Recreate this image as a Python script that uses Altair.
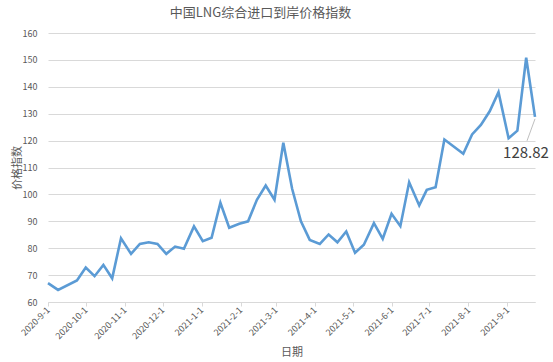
import altair as alt
import pandas as pd

# Data
dates = [
    "2020-09-01", "2020-09-09", "2020-09-24", "2020-10-01", "2020-10-08", "2020-10-15",
    "2020-10-22", "2020-10-29", "2020-11-06", "2020-11-13", "2020-11-20", "2020-11-27",
    "2020-12-04", "2020-12-11", "2020-12-18", "2020-12-26", "2021-01-02", "2021-01-09",
    "2021-01-16", "2021-01-23", "2021-01-31", "2021-02-07", "2021-02-14", "2021-02-21",
    "2021-02-28", "2021-03-07", "2021-03-14", "2021-03-21", "2021-03-28", "2021-04-05",
    "2021-04-12", "2021-04-19", "2021-04-26", "2021-05-03", "2021-05-10", "2021-05-18",
    "2021-05-25", "2021-06-01", "2021-06-08", "2021-06-15", "2021-06-23", "2021-06-29",
    "2021-07-06", "2021-07-13", "2021-07-28", "2021-08-04", "2021-08-11", "2021-08-18",
    "2021-08-25", "2021-09-02", "2021-09-09", "2021-09-16", "2021-09-23",
]
values = [
    67.0, 64.5, 68.0, 72.8, 69.6, 73.8,
    68.8, 83.7, 77.9, 81.6, 82.2, 81.6,
    77.9, 80.6, 79.8, 88.1, 82.6, 83.9,
    96.9, 87.6, 89.1, 90.0, 98.0, 103.3,
    98.0, 119.2, 102.1, 90.0, 83.1, 81.6,
    85.1, 82.2, 86.2, 78.3, 81.3, 89.3,
    83.5, 92.8, 88.2, 104.5, 95.9, 101.7,
    102.7, 120.4, 115.1, 122.3, 125.8, 130.9,
    138.0, 120.9, 123.7, 150.8, 128.82,
]
tick_months = [
    (2020, 9), (2020, 10), (2020, 11), (2020, 12), (2021, 1), (2021, 2), (2021, 3),
    (2021, 4), (2021, 5), (2021, 6), (2021, 7), (2021, 8), (2021, 9),
]
y_ticks = [60, 70, 80, 90, 100, 110, 120, 130, 140, 150, 160]
label_date = ["2021-09-23"]
label_value = [128.82]
label_text = ["128.82"]

df = pd.DataFrame({"date": dates, "value": values})
ann = pd.DataFrame({"date": label_date, "value": label_value, "text": label_text})

FONT = "Noto Sans CJK SC"
GRAY = "#595959"

x_scale = alt.Scale(
    type="utc",
    domain=[alt.DateTime(year=2020, month=9, date=1, utc=True),
            alt.DateTime(year=2021, month=9, date=23, utc=True)],
)
y_scale = alt.Scale(domain=[60, 160], nice=False, zero=False)

x_axis = alt.Axis(
    values=[alt.DateTime(year=y, month=m, date=1, utc=True) for y, m in tick_months],
    labelExpr="utcFormat(datum.value, '%Y-%-m-%-d')",
    labelAngle=-45, labelAlign="right", labelBaseline="middle",
    labelFontSize=9, labelColor=GRAY, labelFont=FONT, labelPadding=2,
    labelOverlap=False,
    grid=False, domainColor="#d9d9d9", tickColor="#d9d9d9", tickSize=4,
    title="日期", titleFont=FONT, titleFontSize=11, titleColor=GRAY,
    titleFontWeight="normal", titleY=50, titleBaseline="middle",
)
y_axis = alt.Axis(
    values=y_ticks, labelOverlap=False,
    domain=False, ticks=False, grid=True, gridColor="#d9d9d9",
    labelFontSize=9, labelColor=GRAY, labelFont=FONT, labelPadding=11,
    title="价格指数", titleFont=FONT, titleFontSize=11, titleColor=GRAY,
    titleFontWeight="normal", titleX=-31, titleY=134.5, titleAngle=-90,
    titleAlign="center", titleBaseline="middle",
)

X = alt.X("date:T", scale=x_scale, axis=x_axis)
Y = alt.Y("value:Q", scale=y_scale, axis=y_axis)

line = alt.Chart(df).mark_line(color="#5b9bd5", strokeWidth=2.6, strokeJoin="miter").encode(
    x=X, y=Y,
)

leader = alt.Chart(ann).mark_rule(color="#bfbfbf", strokeWidth=1, yOffset=2, x2Offset=-8, y2Offset=24).encode(
    x=X, y=Y, x2="date:T", y2="value:Q",
)

text = alt.Chart(ann).mark_text(
    font=FONT, fontSize=15, color="#404040", dx=-9, dy=36, align="center", baseline="middle",
).encode(x=X, y=Y, text="text:N")

chart = alt.layer(line, leader, text).properties(
    width=487, height=269,
    title=alt.TitleParams("中国LNG综合进口到岸价格指数", font=FONT, fontSize=13, color=GRAY,
                          fontWeight="normal", anchor="middle", dx=-31, offset=9),
    autosize=alt.AutoSizeParams(type="none"),
    padding={"left": 48, "top": 33, "right": 18, "bottom": 60},
    background="white",
).configure_view(stroke=None)

chart.save("out.html", embed_options={"renderer": "svg", "actions": False})
